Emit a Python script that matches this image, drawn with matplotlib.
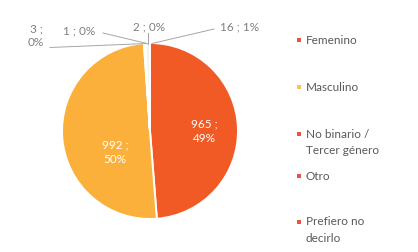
import matplotlib.pyplot as plt

categorias = ['Femenino', 'Masculino', 'No binario /\nTercer género', 'Otro', 'Prefiero no\ndecirlo', '']
valores = [965, 992, 3, 1, 2, 16]
etiquetas = ['965 ;\n49%', '992 ;\n50%', '3 ;\n0%', '1 ; 0%', '2 ; 0%', '16 ; 1%']
colores = ['#F15A24', '#FBB03B', '#E8472F', '#D9412B', '#C8D3DC', '#F7F2EA']
colores_leyenda = ['#E8553D', '#F3C45A', '#E8553D', '#E8553D', '#E8553D']

plt.rcParams['font.family'] = ['Lato', 'DejaVu Sans']
gris = '#7F7F7F'

fig = plt.figure(figsize=(4.18, 2.53), dpi=100)
# axes in which radius 1 = 88 px, centre at (150, 132) from top-left
ax = fig.add_axes([0, 0, 300 / 418, 1])
ax.pie(valores, colors=colores, startangle=90, counterclock=False,
       wedgeprops=dict(edgecolor='white', linewidth=1.4))
ax.set_aspect('auto')
ax.set_xlim(-150 / 88, 150 / 88)
ax.set_ylim(-121 / 88, 132 / 88)
ax.axis('off')


def px(x, y):
    return (x - 150) / 88, (132 - y) / 88


# big slices, white labels inside
ax.text(*px(204, 131), etiquetas[0], color='white', fontsize=8.5, ha='center', va='center',
        linespacing=1.4)
ax.text(*px(115, 152), etiquetas[1], color='white', fontsize=8.5, ha='center', va='center',
        linespacing=1.4)

# small slices, outside labels with leader lines
ax.text(*px(36, 36), etiquetas[2], color=gris, fontsize=8.5, ha='center', va='center',
        linespacing=1.3)
ax.plot(*zip(px(50, 48.5), px(147, 44.5)), color='#A6A6A6', lw=0.7)
ax.text(*px(79, 31), etiquetas[3], color=gris, fontsize=8.5, ha='center', va='center')
ax.plot(*zip(px(103, 34), px(147, 44.5)), color='#A6A6A6', lw=0.7)
ax.text(*px(149, 27), etiquetas[4], color=gris, fontsize=8.5, ha='center', va='center')
ax.plot(*zip(px(148, 34), px(148, 45)), color='#A6A6A6', lw=0.7)
ax.text(*px(240, 27), etiquetas[5], color=gris, fontsize=8.5, ha='center', va='center')
ax.plot(*zip(px(214, 30), px(152, 44.5)), color='#A6A6A6', lw=0.7)

# legend drawn by hand (pixel coordinates, top-left origin)
lg = fig.add_axes([0, 0, 1, 1])
lg.set_xlim(0, 418)
lg.set_ylim(253, 0)
lg.axis('off')
filas = [41, 88, 135, 177, 223]
for nombre, col, y in zip(categorias[:5], colores_leyenda, filas):
    lg.scatter([299], [y], marker='s', s=9, color=col, linewidths=0)
    lg.text(306, y - 6.5, nombre, color='#595959', fontsize=8.5, ha='left', va='top',
            linespacing=1.6)

fig.savefig('out.png', dpi=100)
